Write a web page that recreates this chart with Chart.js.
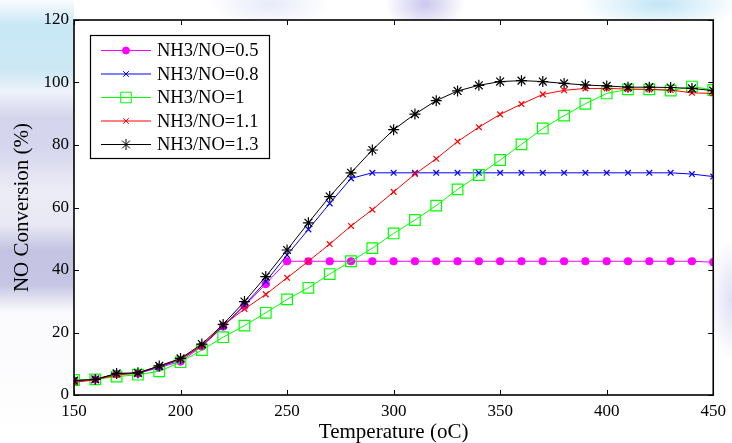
<!DOCTYPE html>
<html>
<head>
<meta charset="utf-8">
<title>NO Conversion vs Temperature</title>
<script src="https://cdn.jsdelivr.net/npm/chart.js@4.4.0/dist/chart.umd.min.js"></script>
<style>
  html, body { margin: 0; padding: 0; }
  body {
    width: 732px; height: 443px; overflow: hidden;
    background:
      radial-gradient(ellipse 40px 28px at 425px 4px, rgba(200,195,238,0.95), rgba(200,195,238,0) 100%),
      radial-gradient(ellipse 80px 26px at 660px 4px, rgba(190,228,245,0.95), rgba(190,228,245,0) 100%),
      radial-gradient(ellipse 60px 24px at 270px 4px, rgba(225,230,248,0.8), rgba(225,230,248,0) 100%),
      radial-gradient(ellipse 24px 60px at 732px 300px, rgba(210,210,240,0.7), rgba(210,210,240,0) 100%),
      linear-gradient(to bottom,
        rgba(250,252,255,1) 0px,
        rgba(200,232,246,1) 25px,
        rgba(205,232,245,1) 70px,
        rgba(238,242,250,1) 92px,
        rgba(212,212,236,1) 118px,
        rgba(214,214,238,1) 150px,
        rgba(236,236,246,1) 190px,
        rgba(232,232,244,1) 225px,
        rgba(196,196,226,1) 250px,
        rgba(198,198,228,1) 285px,
        rgba(250,250,253,1) 312px,
        rgba(255,255,255,1) 443px) 0 0 / 74px 443px no-repeat,
      #ffffff;
  }
  canvas { display: block; }
</style>
</head>
<body>
<canvas id="conversionChart" width="732" height="443"></canvas>
<script>
// Temperatures (oC) and NO conversion (%) for each NH3/NO ratio
const temps = [150, 160, 170, 180, 190, 200, 210, 220, 230, 240, 250, 260, 270, 280, 290, 300,
               310, 320, 330, 340, 350, 360, 370, 380, 390, 400, 410, 420, 430, 440, 450];

const ratio05 = [4.6, 5.0, 6.7, 6.9, 8.8, 10.7, 15.5, 21.9, 28.5, 35.5, 42.8, 42.8, 42.8, 42.8, 42.8, 42.8,
                 42.8, 42.8, 42.8, 42.8, 42.8, 42.8, 42.8, 42.8, 42.8, 42.8, 42.8, 42.8, 42.8, 42.8, 42.5];
const ratio08 = [4.6, 5.0, 6.8, 7.0, 9.0, 11.3, 15.8, 22.0, 28.8, 36.3, 44.8, 53.0, 61.3, 69.3, 71.1, 71.1,
                 71.1, 71.1, 71.1, 71.1, 71.1, 71.1, 71.1, 71.1, 71.1, 71.1, 71.1, 71.1, 71.1, 70.7, 69.9];
const ratio10 = [4.8, 5.0, 5.9, 6.5, 7.6, 10.5, 14.4, 18.5, 22.2, 26.3, 30.6, 34.3, 38.7, 42.8, 47.0, 51.7,
                 56.0, 60.6, 65.8, 70.4, 75.2, 80.2, 85.3, 89.4, 93.2, 96.5, 97.8, 97.8, 97.4, 98.7, 97.6];
const ratio11 = [4.0, 4.9, 6.4, 7.0, 9.3, 11.5, 15.8, 22.3, 27.5, 32.2, 37.5, 42.8, 48.3, 54.1, 59.3, 65.0,
                 70.7, 75.6, 81.1, 85.7, 89.8, 93.1, 96.2, 97.5, 98.1, 98.1, 97.9, 97.8, 97.6, 96.7, 96.5];
const ratio13 = [4.6, 5.0, 6.9, 7.1, 9.3, 11.7, 16.3, 22.6, 29.9, 37.9, 46.4, 55.1, 63.5, 71.1, 78.4, 84.9,
                 89.9, 94.2, 97.3, 99.1, 100.3, 100.6, 100.3, 99.7, 99.2, 98.9, 98.5, 98.5, 98.4, 98.1, 97.4];

const seriesLabels = ['NH3/NO=0.5', 'NH3/NO=0.8', 'NH3/NO=1', 'NH3/NO=1.1', 'NH3/NO=1.3'];

const xTicks = [150, 200, 250, 300, 350, 400, 450];
const yTicks = [0, 20, 40, 60, 80, 100, 120];

const serif = "'Liberation Serif', 'DejaVu Serif', serif";

// Build {x, y} points from the temperature list
function toPoints(values) {
    return values.map((v, i) => ({ x: temps[i], y: v }));
}

function makeSeries(label, values, color, style, radius, fill, order) {
    return {
        label: label,
        data: toPoints(values),
        borderColor: color,
        backgroundColor: fill ? color : 'rgba(0,0,0,0)',
        pointBorderColor: color,
        pointBackgroundColor: fill ? color : 'rgba(0,0,0,0)',
        pointStyle: style,
        pointRadius: radius,
        pointBorderWidth: 1.2,
        borderWidth: 1,
        tension: 0,
        fill: false,
        order: order,
    };
}

const datasets = [
    makeSeries(seriesLabels[0], ratio05, '#ff00ff', 'circle', 3.5, true, 5),
    makeSeries(seriesLabels[1], ratio08, '#0000ff', 'crossRot', 4, false, 4),
    makeSeries(seriesLabels[2], ratio10, '#00ff00', 'rect', 7.5, false, 3),
    makeSeries(seriesLabels[3], ratio11, '#ff0000', 'crossRot', 4, false, 2),
    makeSeries(seriesLabels[4], ratio13, '#000000', 'star', 5.5, false, 1),
];

// White plot area, boxed frame with inward ticks, and legend box inside the plot
const framePlugin = {
    id: 'frame',
    beforeDatasetsDraw(chart) {
        const { ctx, chartArea: a } = chart;
        ctx.save();
        ctx.fillStyle = '#ffffff';
        ctx.fillRect(a.left, a.top, a.width, a.height);
        ctx.restore();
    },
    afterDatasetsDraw(chart) {
        const { ctx, chartArea: a, scales } = chart;
        const tickLen = 5;
        ctx.save();
        ctx.strokeStyle = '#000000';
        ctx.lineWidth = 1;
        ctx.beginPath();
        xTicks.forEach((t) => {
            const px = Math.round(scales.x.getPixelForValue(t)) + 0.5;
            ctx.moveTo(px, a.bottom); ctx.lineTo(px, a.bottom - tickLen);
            ctx.moveTo(px, a.top); ctx.lineTo(px, a.top + tickLen);
        });
        yTicks.forEach((t) => {
            const py = Math.round(scales.y.getPixelForValue(t)) + 0.5;
            ctx.moveTo(a.left, py); ctx.lineTo(a.left + tickLen, py);
            ctx.moveTo(a.right, py); ctx.lineTo(a.right - tickLen, py);
        });
        ctx.stroke();
        ctx.lineWidth = 1.6;
        ctx.strokeRect(a.left, a.top, a.width, a.height);
        ctx.restore();
    },
    afterDraw(chart) {
        const { ctx, chartArea: a } = chart;
        const boxX = a.left + 16, boxY = a.top + 15, boxW = 179, boxH = 123;
        ctx.save();
        ctx.fillStyle = '#ffffff';
        ctx.fillRect(boxX, boxY, boxW, boxH);
        ctx.strokeStyle = '#000000';
        ctx.lineWidth = 1.2;
        ctx.strokeRect(boxX + 0.5, boxY + 0.5, boxW, boxH);
        ctx.font = '18.5px ' + serif;
        ctx.textBaseline = 'middle';
        chart.data.datasets.forEach((ds, i) => {
            const rowY = boxY + 15.5 + i * 23.5;
            ctx.strokeStyle = ds.borderColor;
            ctx.lineWidth = 1;
            ctx.beginPath();
            ctx.moveTo(boxX + 11, rowY);
            ctx.lineTo(boxX + 61, rowY);
            ctx.stroke();
            ctx.fillStyle = ds.pointBackgroundColor;
            Chart.helpers.drawPoint(ctx, {
                pointStyle: ds.pointStyle,
                radius: ds.pointRadius,
                rotation: 0,
                borderWidth: 1.2,
            }, boxX + 36, rowY);
            ctx.fillStyle = '#000000';
            ctx.fillText(ds.label, boxX + 67, rowY + 1);
        });
        ctx.restore();
    },
};

new Chart(document.getElementById('conversionChart').getContext('2d'), {
    type: 'line',
    data: { datasets: datasets },
    plugins: [framePlugin],
    options: {
        responsive: false,
        animation: false,
        devicePixelRatio: 1,
        layout: { padding: { left: 0, right: 16, top: 20, bottom: 0 } },
        plugins: {
            legend: { display: false },
            tooltip: { enabled: false },
        },
        scales: {
            x: {
                type: 'linear',
                min: 150,
                max: 450,
                afterFit: (scale) => { scale.height = 48; },
                afterBuildTicks: (scale) => { scale.ticks = xTicks.map((v) => ({ value: v })); },
                grid: { display: false, drawTicks: false },
                border: { display: false },
                ticks: { color: '#000', padding: 6, font: { family: serif, size: 17 } },
                title: {
                    display: true,
                    text: 'Temperature (oC)',
                    color: '#000',
                    padding: { top: 0, bottom: 0 },
                    font: { family: serif, size: 21, lineHeight: 1 },
                },
            },
            y: {
                min: 0,
                max: 120,
                afterFit: (scale) => { scale.width = 74; },
                afterBuildTicks: (scale) => { scale.ticks = yTicks.map((v) => ({ value: v })); },
                grid: { display: false, drawTicks: false },
                border: { display: false },
                ticks: { color: '#000', padding: 5, font: { family: serif, size: 17 } },
                title: {
                    display: true,
                    text: 'NO Conversion (%)',
                    color: '#000',
                    padding: { top: 12, bottom: 0 },
                    font: { family: serif, size: 21, lineHeight: 1 },
                },
            },
        },
    },
});
</script>
</body>
</html>
